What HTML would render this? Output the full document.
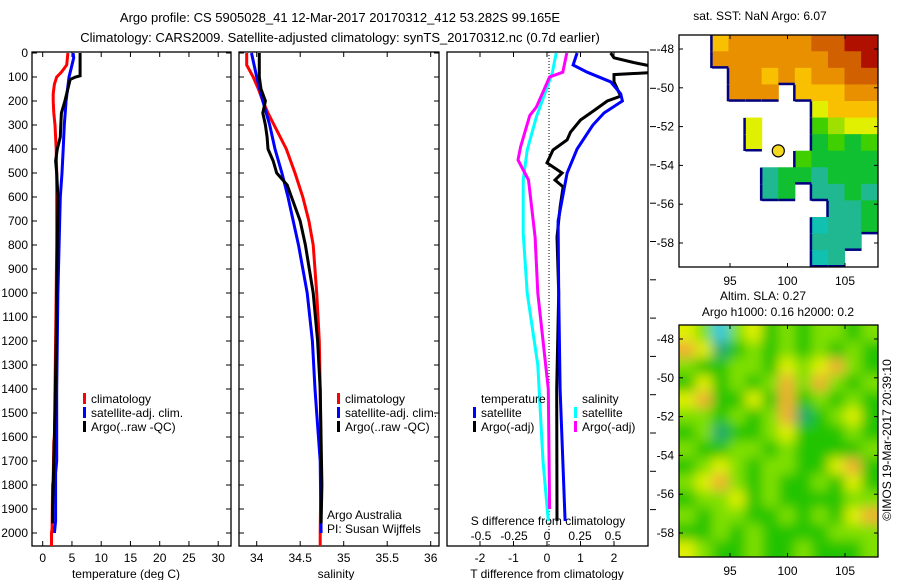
<!DOCTYPE html>
<html><head><meta charset="utf-8"><style>
body{margin:0;background:#fff;}
svg{display:block;font-family:"Liberation Sans",sans-serif;}
</style></head><body>
<svg id="chart" width="900" height="580" viewBox="0 0 900 580">
<defs>
<clipPath id="c1"><rect x="32" y="52" width="199" height="494"/></clipPath>
<clipPath id="c2"><rect x="239" y="52" width="200" height="494"/></clipPath>
<clipPath id="c3"><rect x="447" y="52" width="201" height="494"/></clipPath>
<clipPath id="cm1"><rect x="679" y="35" width="199" height="232"/></clipPath>
<clipPath id="cm2"><rect x="679" y="325" width="199" height="232"/></clipPath>
<filter id="blur" x="-5%" y="-5%" width="110%" height="110%"><feGaussianBlur stdDeviation="6"/></filter>
</defs>
<text x="340" y="22" font-size="13" text-anchor="middle">Argo profile: CS 5905028_41 12-Mar-2017 20170312_412 53.282S 99.165E</text>
<text x="340" y="42" font-size="13" text-anchor="middle">Climatology: CARS2009. Satellite-adjusted climatology: synTS_20170312.nc (0.7d earlier)</text>
<g id="g"></g>
</svg>
<script>
// ---- data ----
const depthTicks=[0,100,200,300,400,500,600,700,800,900,1000,1100,1200,1300,1400,1500,1600,1700,1800,1900,2000];
const tempTicks=[0,5,10,15,20,25,30];
const salTicks=[34,34.5,35,35.5,36];
const tdiffTicks=[-2,-1,0,1,2];
const sdiffTicks=[-0.5,-0.25,0,0.25,0.5];
const sdiffLabels=["-0.5","-0.25","0","0.25","0.5"];

const tClimDepth=[0,50,80,100,130,170,200,250,300,350,400,500,600,800,1000,1200,1400,1600,1620,1780,1800,1980,2000,2060];
const tClimVal=[4.3,4.1,3.2,2.4,2.0,1.8,1.8,1.9,2.1,2.2,2.3,2.4,2.4,2.4,2.3,2.2,2.1,2.0,1.9,1.8,1.7,1.6,1.5,1.5];
const tSatDepth=[0,20,60,100,200,300,400,500,600,800,1000,1200,1400,1600,1700,1750,1950,2000];
const tSatVal=[5.2,5.3,4.9,4.5,4.0,3.7,3.5,3.3,3.0,2.8,2.6,2.5,2.4,2.4,2.4,2.2,2.2,2.0];
const tArgoDepth=[0,95,100,110,200,250,300,350,400,450,500,550,600,800,1000,1200,1500,1700,1900,1960];
const tArgoVal=[6.4,6.4,5.6,4.7,3.8,3.2,3.1,3.0,2.5,2.2,2.4,2.5,2.6,2.5,2.4,2.3,2.1,1.9,1.7,1.7];

const sClimDepth=[0,50,100,150,200,250,300,400,500,600,700,800,1000,1200,1400,1700,2000,2060];
const sClimVal=[33.885,33.885,33.96,34.02,34.07,34.13,34.2,34.34,34.44,34.53,34.6,34.65,34.69,34.72,34.73,34.74,34.73,34.73];
const sSatDepth=[0,100,200,300,400,500,600,800,1000,1200,1400,1500,1700,2000];
const sSatVal=[33.94,34.0,34.07,34.15,34.21,34.29,34.36,34.48,34.58,34.64,34.67,34.69,34.73,34.74];
const sArgoDepth=[0,100,150,200,250,300,350,400,450,500,550,600,700,800,1000,1200,1400,1800,1960];
const sArgoVal=[34.03,34.03,34.05,34.1,34.07,34.1,34.12,34.13,34.19,34.23,34.35,34.4,34.5,34.56,34.65,34.7,34.73,34.75,34.74];

const dTSatDepth=[0,50,80,120,170,200,250,300,400,500,700,1000,1400,1950];
const dTSatVal=[0.9,0.78,1.2,1.9,2.2,2.25,1.7,1.37,0.9,0.6,0.33,0.35,0.39,0.54];
const dTArgoDepth=[0,20,40,60,80,90,120,180,200,240,279,330,362,404,458,500,529,558,642,767,1000,1400,1950];
const dTArgoVal=[1.9,2.0,2.6,3.3,3.3,2.0,2.0,2.2,1.8,1.4,1.0,0.7,0.6,0.18,0.0,0.45,0.24,0.48,0.39,0.3,0.35,0.29,0.3];
const dSSatDepth=[0,83,167,266,404,529,750,1000,1300,1700,1950];
const dSSatVal=[0.07,0.04,-0.015,-0.08,-0.15,-0.18,-0.18,-0.15,-0.07,-0.03,0.01];
const dSArgoDepth=[0,80,100,225,260,391,446,529,767,1000,1400,1900];
const dSArgoVal=[0.15,0.12,0.02,-0.08,-0.13,-0.2,-0.22,-0.14,-0.09,-0.07,0.01,0.02];

const sstGrid=[
[-1,-1,7,8,8,8,8,8,9,9,10,10],
[-1,-1,8,8,8,8,8,8,8,9,9,10],
[-1,-1,-1,8,8,7,8,7,8,8,9,9],
[-1,-1,-1,8,8,8,-1,7,7,7,8,8],
[-1,-1,-1,-1,-1,-1,-1,-1,6,7,7,7],
[-1,-1,-1,-1,6,-1,-1,-1,4,5,6,6],
[-1,-1,-1,-1,6,-1,-1,-1,3,4,3,4],
[-1,-1,-1,-1,-1,-1,-1,4,3,3,3,3],
[-1,-1,-1,-1,-1,2,3,3,2,3,3,3],
[-1,-1,-1,-1,-1,2,3,-1,2,2,3,2],
[-1,-1,-1,-1,-1,-1,-1,-1,-1,2,2,3],
[-1,-1,-1,-1,-1,-1,-1,-1,1,2,2,3],
[-1,-1,-1,-1,-1,-1,-1,-1,2,2,2,-1],
[-1,-1,-1,-1,-1,-1,-1,-1,1,2,-1,-1]];
const slaGrid=[
[6,5,2,5,6,4,5,4,5,5,4,5],
[7,6,3,4,5,4,5,4,5,4,5,4],
[5,4,4,5,5,4,6,5,6,7,5,4],
[4,6,4,5,4,5,7,5,7,5,4,5],
[6,7,4,4,6,4,7,4,5,4,5,4],
[5,5,4,5,4,5,7,3,4,5,6,4],
[4,5,3,4,4,5,6,4,4,4,5,4],
[5,4,4,5,5,4,5,4,4,4,4,5],
[4,5,6,5,4,5,5,4,4,6,7,4],
[5,6,7,5,4,5,4,4,5,4,6,4],
[4,5,5,6,4,5,4,4,4,4,5,5],
[5,4,5,5,4,4,5,4,5,4,6,7],
[4,4,5,4,5,4,4,4,4,5,5,5],
[6,5,4,4,5,4,4,5,4,4,4,5]];
const lonTicks=[95,100,105];
const latTicks=[-48,-50,-52,-54,-56,-58];
const argoLon=99.2, argoLat=-53.25;

// ---- helpers ----
const NS="http://www.w3.org/2000/svg";
const G=document.getElementById('g');
function el(t,a,p){const e=document.createElementNS(NS,t);for(const k in a)e.setAttribute(k,a[k]);(p||G).appendChild(e);return e;}
const yD=d=>53+d*0.24;
const xT=v=>42.7+v*5.85;
const xS=v=>256.7+(v-34)*87;
const xDT=v=>547+v*33.5;
const xDS=v=>547+v*132;
const xLon=v=>730+(v-95)*11.5;
const yLat=v=>49+(-48-v)*19.4;

function frame(x,y,w,h,name){const r=el('rect',{x:x,y:y,width:w,height:h,fill:'none',stroke:'#000','stroke-width':1.3});

}
function txt(x,y,s,anchor,name,size){const t=el('text',{x:x,y:y,'font-size':size||12,'text-anchor':anchor||'start'});t.textContent=s;

return t;}
function line(depths,vals,xf,color,clip,name,w){
 let d='';depths.forEach((dp,i)=>{d+=(i?'L':'M')+xf(vals[i]).toFixed(1)+','+yD(dp).toFixed(1);});
 const p=el('path',{d:d,fill:'none',stroke:color,'stroke-width':w||3,'clip-path':'url(#'+clip+')','stroke-linejoin':'miter'});
 
 }
function depthTicksOn(x0,x1){depthTicks.forEach(d=>{el('line',{x1:x0,x2:x0+5,y1:yD(d),y2:yD(d),stroke:'#000'});el('line',{x1:x1,x2:x1-5,y1:yD(d),y2:yD(d),stroke:'#000'});});}
function legendEntry(x,y,color,label,name){
 const r=el('rect',{x:x,y:y-10,width:3,height:11,fill:color});
 
 
 txt(x+8,y,label,'start',name);}

// ---- panel 1: temperature ----
frame(32,52,199,494,'temperature-axes');
depthTicksOn(32,231);
depthTicks.forEach(d=>txt(28,yD(d)+4,String(d),'end','depth-tick-label'));
tempTicks.forEach(v=>{el('line',{x1:xT(v),x2:xT(v),y1:52,y2:57,stroke:'#000'});el('line',{x1:xT(v),x2:xT(v),y1:546,y2:541,stroke:'#000'});txt(xT(v),562,String(v),'middle','temperature-tick-label');});
txt(126,578,'temperature (deg C)','middle','temperature-axis-title');
line(tClimDepth,tClimVal,xT,'#f00','c1','temp-climatology-line');
line(tSatDepth,tSatVal,xT,'#00f','c1','temp-satellite-line');
line(tArgoDepth,tArgoVal,xT,'#000','c1','temp-argo-line');
legendEntry(83,403,'#f00','climatology','legend-climatology');
legendEntry(83,417,'#00f','satellite-adj. clim.','legend-satellite');
legendEntry(83,431,'#000','Argo(..raw -QC)','legend-argo');

// ---- panel 2: salinity ----
frame(239,52,200,494,'salinity-axes');
depthTicksOn(239,439);
salTicks.forEach(v=>{el('line',{x1:xS(v),x2:xS(v),y1:52,y2:57,stroke:'#000'});el('line',{x1:xS(v),x2:xS(v),y1:546,y2:541,stroke:'#000'});txt(xS(v),562,String(v),'middle','salinity-tick-label');});
txt(336,578,'salinity','middle','salinity-axis-title');
line(sClimDepth,sClimVal,xS,'#f00','c2','sal-climatology-line');
line(sSatDepth,sSatVal,xS,'#00f','c2','sal-satellite-line');
line(sArgoDepth,sArgoVal,xS,'#000','c2','sal-argo-line');
legendEntry(337,403,'#f00','climatology','legend-climatology-sal');
legendEntry(337,417,'#00f','satellite-adj. clim.','legend-satellite-sal');
legendEntry(337,431,'#000','Argo(..raw -QC)','legend-argo-sal');
txt(327,519,'Argo Australia','start','argo-australia-label');
txt(327,533,'PI: Susan Wijffels','start','pi-label');

// ---- panel 3: differences ----
frame(447,52,201,494,'difference-axes');
for(let y=50;y<=535;y+=38.3){el('line',{x1:650,x2:656,y1:y,y2:y,stroke:'#000'});}
tdiffTicks.forEach(v=>{el('line',{x1:xDT(v),x2:xDT(v),y1:52,y2:57,stroke:'#000'});el('line',{x1:xDT(v),x2:xDT(v),y1:546,y2:541,stroke:'#000'});txt(xDT(v),562,String(v),'middle','tdiff-tick-label');});
sdiffTicks.forEach((v,i)=>txt(xDS(v),540,sdiffLabels[i],'middle','sdiff-tick-label'));
txt(548,525,'S difference from climatology','middle','sdiff-axis-title');
txt(547,578,'T difference from climatology','middle','tdiff-axis-title');
el('line',{x1:549,x2:549,y1:52,y2:546,stroke:'#000','stroke-dasharray':'1,2'});
line(dSSatDepth,dSSatVal,xDS,'#0ff','c3','sdiff-satellite-line');
line(dSArgoDepth,dSArgoVal,xDS,'#f0f','c3','sdiff-argo-line');
line(dTArgoDepth,dTArgoVal,xDT,'#000','c3','tdiff-argo-line');
line(dTSatDepth,dTSatVal,xDT,'#00f','c3','tdiff-satellite-line');
txt(481,403,'temperature','start','legend-temperature-heading');
legendEntry(473,417,'#00f','satellite','legend-tdiff-satellite');
legendEntry(473,431,'#000','Argo(-adj)','legend-tdiff-argo');
txt(582,403,'salinity','start','legend-salinity-heading');
legendEntry(574,417,'#0ff','satellite','legend-sdiff-satellite');
legendEntry(574,431,'#f0f','Argo(-adj)','legend-sdiff-argo');

// ---- maps ----
const sstCols=['#00d0d8','#10c0b0','#20b890','#10c030','#40d000','#a0e000','#e0f000','#f8c000','#e89000','#d06000','#b01000'];
const slaCols={2:'#30c8e0',3:'#20a870',4:'#20c400',5:'#80e000',6:'#e0f000',7:'#f0b030'};
function mapAxes(y0,name){
 frame(679,y0,199,232,name);
 lonTicks.forEach(v=>{el('line',{x1:xLon(v),x2:xLon(v),y1:y0,y2:y0+4,stroke:'#000'});el('line',{x1:xLon(v),x2:xLon(v),y1:y0+232,y2:y0+228,stroke:'#000'});txt(xLon(v),y0+250,String(v),'middle','lon-tick-label');});
 const off=y0-35;
 latTicks.forEach(v=>{const y=yLat(v)+off;el('line',{x1:679,x2:683,y1:y,y2:y,stroke:'#000'});el('line',{x1:878,x2:874,y1:y,y2:y,stroke:'#000'});txt(674,y+4,String(v),'end','lat-tick-label');});
}
const cw=199/12, ch=232/14;
const gs=el('g',{'clip-path':'url(#cm1)'});


sstGrid.forEach((row,r)=>row.forEach((v,c)=>{if(v<0)return;
 el('rect',{x:679+c*cw-0.3,y:35+r*ch-0.3,width:cw+0.6,height:ch+0.6,fill:sstCols[v]},gs);
 if(c===0||row[c-1]<0)el('rect',{x:679+c*cw-2,y:35+r*ch,width:2.5,height:ch,fill:'#000080'},gs);
 if(r===sstGrid.length-1||sstGrid[r+1][c]<0)el('rect',{x:679+c*cw,y:35+(r+1)*ch-2,width:cw,height:2.5,fill:'#000080'},gs);}));
const mk=el('circle',{cx:xLon(argoLon),cy:yLat(argoLat),r:6,fill:'#f5d820',stroke:'#000','stroke-width':1.2});


mapAxes(35,'sst-map-axes');
txt(760,20,'sat. SST: NaN Argo: 6.07','middle','sst-map-title');

const gc=el('g',{'clip-path':'url(#cm2)'});
const gl=el('g',{filter:'url(#blur)'},gc);


slaGrid.forEach((row,r)=>row.forEach((v,c)=>{
 el('rect',{x:679+c*cw-(c===0?12:0),y:325+r*ch-(r===0?12:0),width:cw+(c===0||c===11?12:0)+0.5,height:ch+(r===0||r===13?12:0)+0.5,fill:slaCols[v]},gl);}));
mapAxes(325,'sla-map-axes');
txt(763,300,'Altim. SLA: 0.27','middle','sla-map-title');
txt(778,316,'Argo h1000: 0.16 h2000: 0.2','middle','sla-map-subtitle');
const cp=txt(0,0,'©IMOS 19-Mar-2017 20:39:10','middle','imos-timestamp',12);
cp.setAttribute('transform','translate(891,440) rotate(-90)');
</script>
</body></html>
